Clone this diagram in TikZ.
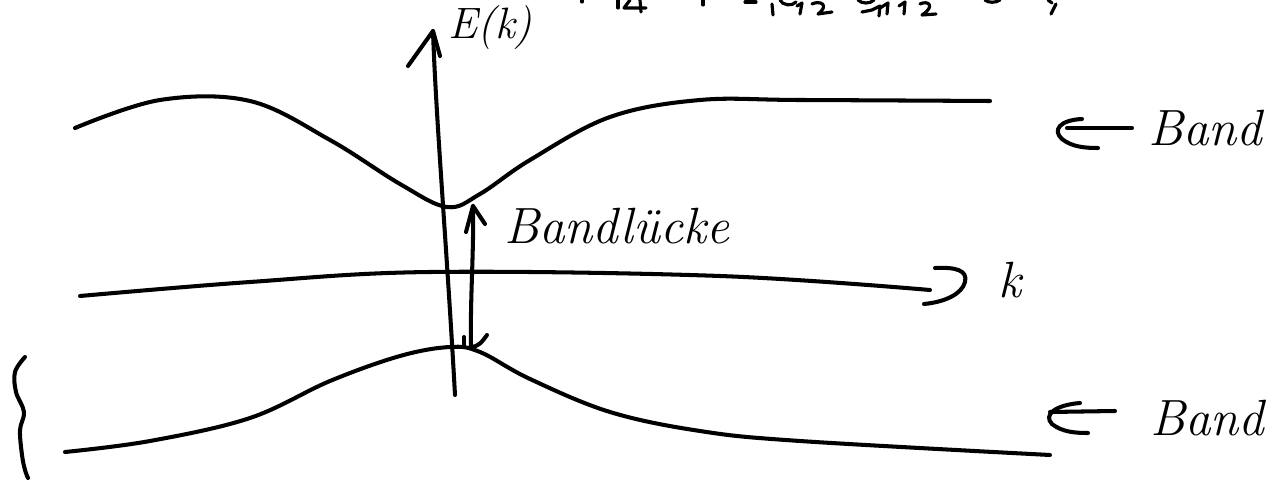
\documentclass[tikz,border=0pt]{standalone}
\usepackage{fontspec}
\setmainfont{Latin Modern Roman}
\begin{document}
\begin{tikzpicture}[x=0.02cm,y=-0.02cm,
  pen/.style={line width=2.3pt,line cap=round,line join=round,black},
  thin pen/.style={line width=1.8pt,line cap=round,line join=round,black},
  hand/.style={font=\itshape\fontsize{29}{34}\selectfont,inner sep=0pt},
  handsm/.style={font=\itshape\fontsize{25}{28}\selectfont,inner sep=0pt}]
\useasboundingbox (0,0) rectangle (1276,483);
% coordinates
\coordinate (ybot) at (455,395);
\coordinate (ytop) at (433,31);
\coordinate (xl) at (80,296);
\coordinate (xr) at (930,290);
% vertical axis E(k)
\draw[pen] (ybot) .. controls (447,250) and (436,120) .. (ytop);
\draw[pen] (408,66) -- (ytop) -- (440,56);
\node[handsm,anchor=west] (Ek) at (448,28) {E(k)};
% horizontal axis k
\draw[pen] plot[smooth,tension=0.6] coordinates {(xl) (250,282) (430,272) (720,276) (xr)};
\draw[pen] (935,268) .. controls (955,267) and (968,270) .. (965,282) .. controls (962,294) and (945,302) .. (924,304);
\node[hand,anchor=west] (k) at (998,280) {k};
% upper band
\draw[pen] plot[smooth,tension=0.6] coordinates {(75,128) (160,100) (250,101) (330,140) (400,184) (447,207) (480,194) (530,160) (610,117) (700,100) (800,100) (990,101)};
% lower band
\draw[pen] plot[smooth,tension=0.6] coordinates {(65,452) (150,441) (250,418) (330,381) (400,356) (450,347) (480,352) (530,379) (610,412) (700,431) (800,441) (1050,455)};
% gap double arrow
\coordinate (gt) at (473,206);
\coordinate (gb) at (471,347);
\draw[pen] (gb) .. controls (470,300) and (474,250) .. (gt);
\draw[pen] (466,232) -- (gt) -- (485,224);
\draw[pen] (464,337) -- (464,346);
\draw[pen] (487,335) .. controls (482,342) and (478,347) .. (gb);
\node[hand,anchor=west] (gap) at (504,226) {Bandlücke};
% left brace
\draw[pen] plot[smooth,tension=0.6] coordinates {(25,357) (15,372) (16,392) (24,412) (20,430) (22,455) (25,470) (28,478)};
% right labels
\coordinate (a1) at (1067,128);
\coordinate (a2) at (1050,412);
\draw[pen] (1132,128) -- (a1);
\draw[pen] (1082,119) .. controls (1060,120) and (1052,130) .. (1062,139) .. controls (1072,147) and (1085,148) .. (1098,148);
\node[hand,anchor=west] (b1) at (1148,128) {Band};
\draw[pen] (1115,411) -- (a2);
\draw[pen] (1080,403) .. controls (1055,405) and (1043,415) .. (1052,424) .. controls (1062,432) and (1075,433) .. (1088,433);
\node[hand,anchor=west] (b2) at (1150,418) {Band};
% cut-off formula fragments at top
\draw[thin pen] (582,0) -- (582,2);
\draw[thin pen] (618,0) -- (618,8);
\draw[thin pen] (630,0) -- (624,8) -- (646,8);
\draw[thin pen] (640,0) -- (641,12);
\draw[thin pen] (703,0) -- (703,5);
\draw[thin pen] (745,2) -- (756,2);
\draw[thin pen] (772,4) -- (773,15);
\draw[thin pen] (780,0) .. controls (782,5) and (792,7) .. (796,2);
\draw[thin pen] (797,6) -- (802,3) -- (800,14);
\draw[thin pen] (812,4) .. controls (820,0) and (830,5) .. (818,14) -- (832,12);
\draw[thin pen] (862,12) -- (872,10) -- (880,6) -- (879,16);
\draw[thin pen] (880,8) -- (888,3) -- (887,14);
\draw[thin pen] (899,6) -- (905,2) -- (904,14);
\draw[thin pen] (920,4) .. controls (928,0) and (936,6) .. (922,15) -- (936,14);
\draw[thin pen] (858,0) .. controls (862,4) and (870,4) .. (874,0);
\draw[thin pen] (985,0) .. controls (988,3) and (996,3) .. (1000,0);
\draw[thin pen] (1048,0) -- (1052,3);
\draw[thin pen] (1056,4) -- (1051,14);
\end{tikzpicture}
\end{document}
